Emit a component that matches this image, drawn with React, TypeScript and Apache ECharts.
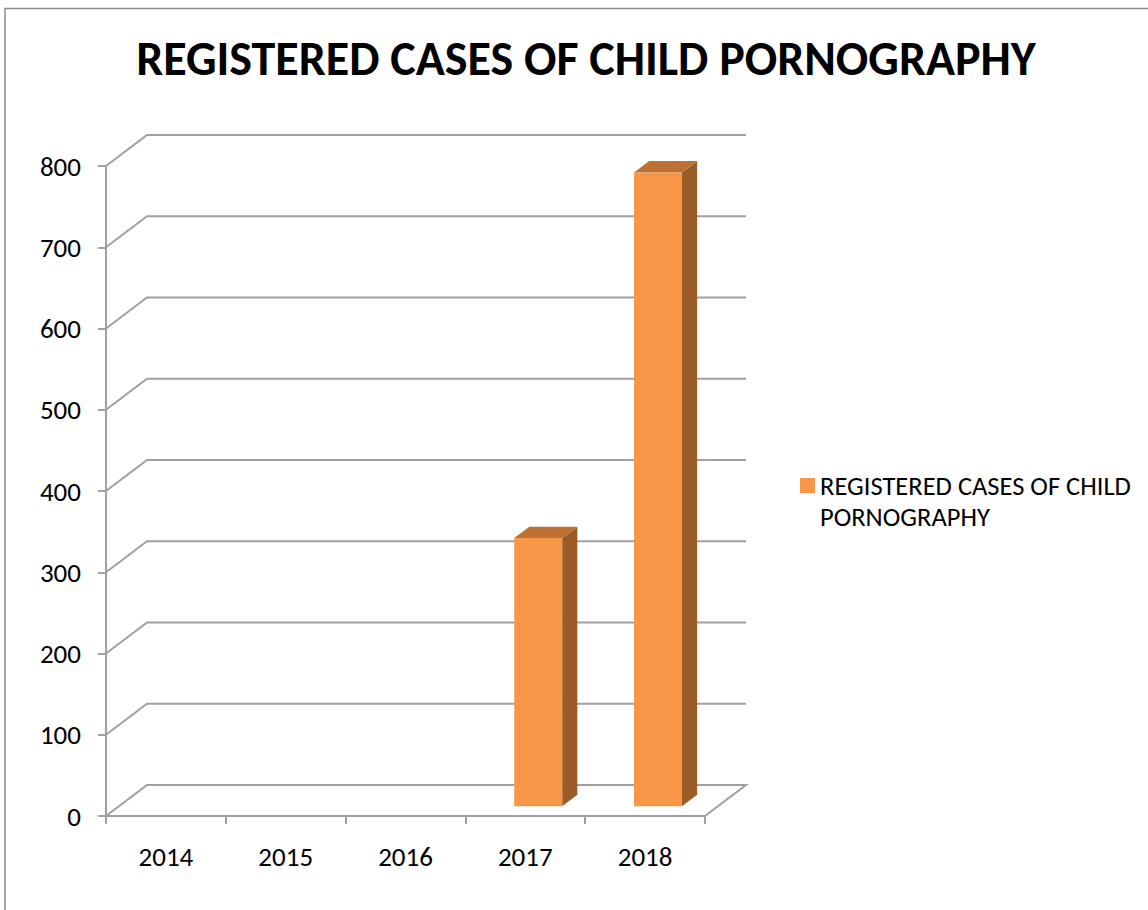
import React, { useEffect, useRef } from "react";
import * as echarts from "echarts";

const years = ["2014", "2015", "2016", "2017", "2018"];
const cases = [0, 0, 0, 330, 780];
const yTicks = [0, 100, 200, 300, 400, 500, 600, 700, 800];
const seriesName = "REGISTERED CASES OF CHILD PORNOGRAPHY";
const legendLines = ["REGISTERED CASES OF CHILD", "PORNOGRAPHY"];
const titleText = "REGISTERED CASES OF CHILD PORNOGRAPHY";

const DEPTH_X = 41;
const DEPTH_Y = -31;
const GRID_COLOR = "#A0A0A0";
const FONT = "Carlito, Lato, 'Open Sans', sans-serif";

export default function App() {
  const ref = useRef<HTMLDivElement>(null);
  useEffect(() => {
    document.body.style.margin = "0";
    const chart = echarts.init(ref.current!, null, { renderer: "svg" });
    const option: any = {
      animation: false,
      backgroundColor: "#fff",
      title: {
        text: titleText,
        left: 581,
        textAlign: "center",
        top: 29,
        textStyle: { fontFamily: FONT, fontWeight: "bold", fontSize: 48, color: "#000" },
      },
      graphic: [
        {
          type: "polyline",
          shape: { points: [[5, 1000], [5, 8.5], [1200, 8.5]] },
          style: { stroke: "#8C8C8C", lineWidth: 1.5, fill: null },
          silent: true,
        },
      ],
      legend: {
        data: [seriesName],
        left: 795,
        top: 434,
        orient: "vertical",
        icon: "rect",
        itemWidth: 15,
        itemHeight: 15,
        formatter: () => "\n" + legendLines.join("\n"),
        textStyle: { fontFamily: FONT, fontSize: 26.5, color: "#000", lineHeight: 31 },
      },
      grid: { left: 106, top: 166, width: 599, height: 650 },
      xAxis: {
        type: "category",
        data: years,
        boundaryGap: true,
        axisLine: { show: true, lineStyle: { color: GRID_COLOR, width: 2 } },
        axisTick: { show: true, length: 8, lineStyle: { color: GRID_COLOR, width: 2 } },
        axisLabel: { margin: 27, fontFamily: FONT, fontSize: 27, color: "#000" },
        splitLine: { show: false },
      },
      yAxis: {
        type: "value",
        min: 0,
        max: 800,
        interval: 100,
        axisLine: { show: true, lineStyle: { color: GRID_COLOR, width: 2 } },
        axisTick: { show: true, length: 8, lineStyle: { color: GRID_COLOR, width: 2 } },
        axisLabel: { margin: 25, fontFamily: FONT, fontSize: 27, color: "#000" },
        splitLine: { show: false },
      },
      series: [
        {
          type: "custom",
          name: "walls",
          silent: true,
          data: yTicks.map((v) => [0, v]),
          renderItem: (params: any, api: any) => {
            const cs = params.coordSys;
            const v = api.value(1);
            const y = api.coord([0, v])[1];
            const x0 = cs.x;
            const x1 = cs.x + cs.width;
            const pts =
              v === 0
                ? [[x0, y], [x0 + DEPTH_X, y + DEPTH_Y], [x1 + DEPTH_X, y + DEPTH_Y], [x1, y]]
                : [[x0, y], [x0 + DEPTH_X, y + DEPTH_Y], [x1 + DEPTH_X, y + DEPTH_Y]];
            return {
              type: "polyline",
              shape: { points: pts },
              style: { stroke: GRID_COLOR, lineWidth: 2, fill: null },
            };
          },
        },
        {
          type: "custom",
          name: seriesName,
          itemStyle: { color: "#F79646" },
          data: years.map((_, i) => [i, cases[i]]),
          renderItem: (params: any, api: any) => {
            const i = api.value(0);
            const v = api.value(1);
            if (!(v > 0)) return null;
            const band = api.size([1, 0])[0];
            const w = band * 0.4;
            const f = 0.315;
            const d = 0.37;
            const ox = f * DEPTH_X;
            const oy = f * DEPTH_Y;
            const bx = d * DEPTH_X;
            const by = d * DEPTH_Y;
            const c0 = api.coord([i, 0]);
            const c1 = api.coord([i, v]);
            const xl = c0[0] - w / 2 + ox;
            const xr = xl + w;
            const yb = c0[1] + oy;
            const yt = c1[1] + oy;
            return {
              type: "group",
              children: [
                {
                  type: "polygon",
                  shape: { points: [[xr, yb], [xr + bx, yb + by], [xr + bx, yt + by], [xr, yt]] },
                  style: { fill: "#9C5C28" },
                },
                {
                  type: "polygon",
                  shape: { points: [[xl, yt], [xl + bx, yt + by], [xr + bx, yt + by], [xr, yt]] },
                  style: { fill: "#BC7033" },
                },
                {
                  type: "rect",
                  shape: { x: xl, y: yt, width: w, height: yb - yt },
                  style: { fill: "#F79646" },
                },
              ],
            };
          },
        },
      ],
    };
    chart.setOption(option);
    return () => chart.dispose();
  }, []);
  return (
    <div
      ref={ref}
      style={{ position: "absolute", left: 0, top: 0, width: 1148, height: 910 }}
    />
  );
}
